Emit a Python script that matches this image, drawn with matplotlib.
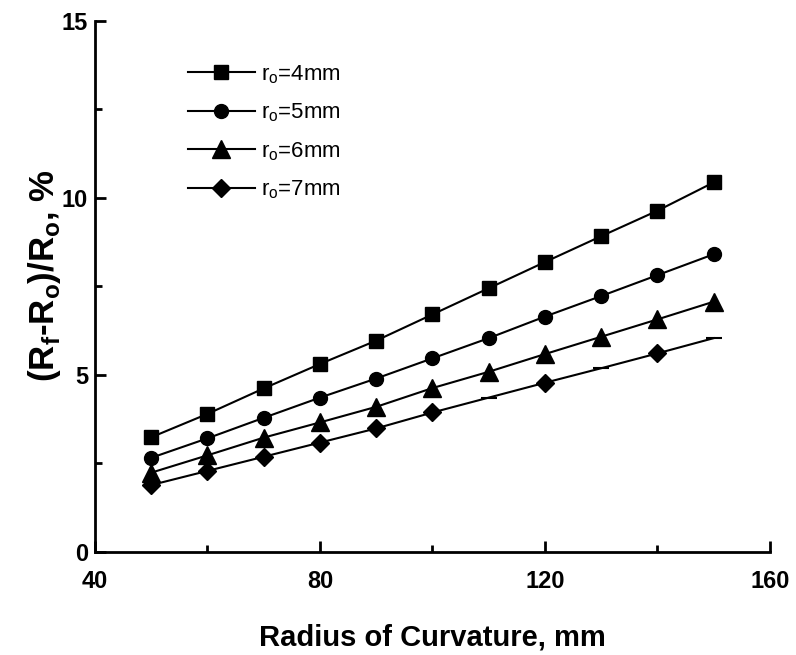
import matplotlib
matplotlib.use("Agg")
import matplotlib.pyplot as plt

plt.rcParams['font.family'] = ['Liberation Sans', 'DejaVu Sans']
plt.rcParams['mathtext.fontset'] = 'custom'
plt.rcParams['mathtext.rm'] = 'Liberation Sans'
plt.rcParams['mathtext.bf'] = 'Liberation Sans:bold'

# Données
radius = [50, 60, 70, 80, 90, 100, 110, 120, 130, 140, 150]
r4 = [3.24, 3.90, 4.62, 5.31, 5.97, 6.71, 7.45, 8.19, 8.92, 9.64, 10.44]
r5 = [2.66, 3.21, 3.79, 4.36, 4.90, 5.47, 6.04, 6.65, 7.23, 7.82, 8.41]
r6 = [2.24, 2.73, 3.23, 3.66, 4.10, 4.63, 5.09, 5.59, 6.08, 6.57, 7.07]
r7 = [1.89, 2.29, 2.69, 3.09, 3.49, 3.94, 4.36, 4.78, 5.19, 5.61, 6.04]
labels = ['r$_\\mathrm{o}$=4mm', 'r$_\\mathrm{o}$=5mm', 'r$_\\mathrm{o}$=6mm', 'r$_\\mathrm{o}$=7mm']
# points de la série 7 mm tracés sans losange (simple tiret)
r7_dash = [6, 8, 10]

fig = plt.figure(figsize=(7.96, 6.55), dpi=100)
ax = fig.add_axes([0.1193, 0.1573, 0.848, 0.8107])

ax.plot(radius, r4, color='black', lw=1.5, marker='s', ms=10.5, label=labels[0])
ax.plot(radius, r5, color='black', lw=1.5, marker='o', ms=10, label=labels[1])
ax.plot(radius, r6, color='black', lw=1.5, marker='^', ms=12.5, label=labels[2])
keep = [i for i in range(len(radius)) if i not in r7_dash]
ax.plot(radius, r7, color='black', lw=1.5, marker='D', ms=9, markevery=keep, label=labels[3])
ax.plot([radius[i] for i in r7_dash], [r7[i] for i in r7_dash], ls='none',
        marker='_', ms=12, mew=1.5, color='black')

ax.set_xlim(40, 160)
ax.set_ylim(0, 15)
ax.set_xticks([40, 80, 120, 160])
ax.set_xticks([60, 100, 140], minor=True)
ax.set_yticks([0, 5, 10, 15])
ax.set_yticks([2.5, 7.5, 12.5], minor=True)

for side in ['top', 'right']:
    ax.spines[side].set_visible(False)
for side in ['left', 'bottom']:
    ax.spines[side].set_linewidth(2)

ax.tick_params(which='major', direction='in', length=8, width=2, labelsize=17)
ax.tick_params(axis='x', which='major', pad=13)
ax.tick_params(axis='y', which='major', pad=5)
ax.tick_params(which='minor', direction='in', length=5, width=2)
for lab in ax.get_xticklabels() + ax.get_yticklabels():
    lab.set_fontweight('bold')

ax.set_xlabel('Radius of Curvature, mm', fontsize=21, fontweight='bold', labelpad=22)
ax.set_ylabel('(R$_\\mathbf{f}$-R$_\\mathbf{o}$)/R$_\\mathbf{o}$, %', fontsize=25,
              fontweight='bold', va='center')
ax.yaxis.set_label_coords(-0.075, 0.52)

ax.legend(loc='upper left', bbox_to_anchor=(188 / 796, 1 - 63 / 655),
          bbox_transform=fig.transFigure, frameon=False, fontsize=16,
          handlelength=3.0, borderpad=0, borderaxespad=0, handletextpad=0.3,
          labelspacing=0.72)

fig.savefig('out.png', dpi=100)
